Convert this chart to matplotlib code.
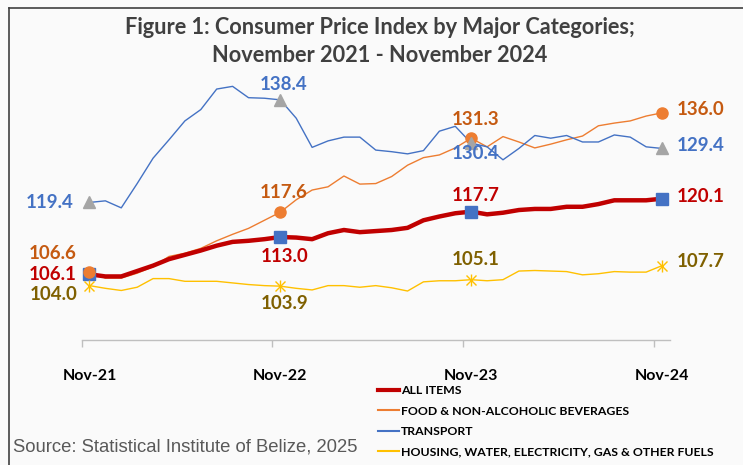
import matplotlib
matplotlib.use("Agg")
import matplotlib.pyplot as plt

# monthly CPI, Nov-2021 .. Nov-2024
months = list(range(37))
tick_labels = ["Nov-21", "Nov-22", "Nov-23", "Nov-24"]
label_idx = [0, 12, 24, 36]

all_items = [106.1, 105.7, 105.7, 106.7, 107.7, 108.9, 109.7, 110.5, 111.4, 112.1,
             112.3, 112.6, 113.0, 112.9, 112.6, 113.7, 114.3, 113.9, 114.1, 114.3,
             114.7, 116.1, 116.8, 117.4, 117.7, 117.2, 117.5, 118.0, 118.2, 118.2,
             118.6, 118.6, 119.1, 119.8, 119.8, 119.8, 120.1]
food = [106.6, 105.4, 105.4, 106.3, 107.5, 109.4, 110.0, 110.9, 112.3, 113.5,
        114.6, 116.1, 117.6, 119.9, 121.7, 122.3, 124.3, 122.8, 122.9, 124.2,
        126.3, 127.7, 128.2, 129.5, 131.3, 129.7, 131.6, 130.6, 129.5, 130.2,
        131.0, 131.7, 133.6, 134.1, 134.5, 135.4, 136.0]
transport = [119.4, 119.7, 118.4, 122.9, 127.6, 131.0, 134.5, 136.6, 140.4, 140.9,
             138.8, 138.7, 138.4, 135.0, 129.6, 130.8, 131.5, 131.5, 129.1, 128.8,
             128.4, 129.0, 132.6, 133.5, 130.4, 129.7, 127.3, 129.4, 131.8, 131.3,
             131.8, 130.6, 130.6, 131.9, 131.5, 129.7, 129.4]
housing = [104.0, 103.5, 103.1, 103.7, 105.3, 105.3, 104.8, 104.8, 104.8, 104.5,
           104.2, 104.0, 103.9, 103.5, 103.2, 104.0, 104.0, 103.7, 104.0, 103.6,
           103.0, 104.7, 104.9, 104.9, 105.1, 104.9, 105.1, 106.7, 106.8, 106.7,
           106.6, 106.0, 106.2, 106.6, 106.5, 106.5, 107.7]

W, H = 743, 465
BG = "#fafafa"
plt.rcParams["font.family"] = ["Lato", "DejaVu Sans"]

fig = plt.figure(figsize=(W / 100, H / 100), dpi=100, facecolor=BG)
# axes box in pixels: left 81.5, right 670, top 64, bottom 340
ax = fig.add_axes([81.5 / W, 1 - 340 / H, (670 - 81.5) / W, (340 - 64) / H])
ax.set_facecolor("none")
ax.set_xlim(-0.5, 36.5)
ax.set_ylim(93.93, 145.04)

series = [
    # values, label, line colour, width, marker, marker colour, text colour
    (all_items, "ALL ITEMS", "#c00000", 3.2, "s", "#4472c4", "#c00000"),
    (food, "FOOD & NON-ALCOHOLIC BEVERAGES", "#ed7d31", 1.0, "o", "#ed7d31", "#c55a11"),
    (transport, "TRANSPORT", "#4472c4", 1.0, "^", "#a5a5a5", "#4472c4"),
    (housing, "HOUSING, WATER, ELECTRICITY, GAS & OTHER FUELS", "#ffc000", 1.0, "*", "#ffc000", "#7f6000"),
]

handles = []
for vals, name, col, lw, mk, mcol, tcol in series:
    ln, = ax.plot(months, vals, color=col, lw=lw, label=name, zorder=3 if lw > 2 else 2,
                  solid_joinstyle="round")
    handles.append(ln)
    xs = [months[i] for i in label_idx]
    ys = [vals[i] for i in label_idx]
    if mk == "*":
        ax.plot(xs, ys, ls="none", marker="x", ms=7, mew=1.0, color=mcol, zorder=4)
        ax.plot(xs, ys, ls="none", marker="|", ms=9, mew=1.0, color=mcol, zorder=4)
    else:
        ax.plot(xs, ys, ls="none", marker=mk, ms=8 if mk != "^" else 9,
                color=mcol, mec=mcol, zorder=4)

# data labels: (series, point index, dx, dy, ha) offsets in pixels
label_pos = {
    "ALL ITEMS": [(-13, 0, "right"), (4, -19, "center"), (4, 16, "center"), (15, 2, "left")],
    "FOOD & NON-ALCOHOLIC BEVERAGES": [(-13, 18, "right"), (3, 20, "center"), (4, 19, "center"), (15, 3, "left")],
    "TRANSPORT": [(-16, 0, "right"), (3, 15, "center"), (4, -10, "center"), (15, 3, "left")],
    "HOUSING, WATER, ELECTRICITY, GAS & OTHER FUELS": [(-12, -9, "right"), (4, -17, "center"), (4, 20, "center"), (15, 4, "left")],
}
for vals, name, col, lw, mk, mcol, tcol in series:
    for i, (dx, dy, ha) in zip(label_idx, label_pos[name]):
        ax.annotate(f"{vals[i]:.1f}", (months[i], vals[i]), xytext=(dx, dy),
                    textcoords="offset pixels", ha=ha, va="center",
                    fontsize=13.5, fontweight="bold", color=tcol, zorder=5)

# axes styling: only a category x axis
for s in ["left", "right", "top"]:
    ax.spines[s].set_visible(False)
ax.spines["bottom"].set_color("#bfbfbf")
ax.spines["bottom"].set_linewidth(1.0)
ax.set_yticks([])
ax.set_xticks([-0.5, 11.5, 23.5, 35.5])
ax.set_xticklabels([])
ax.tick_params(axis="x", which="major", length=5, color="#bfbfbf", width=1.0)
ax.set_xticks(label_idx, minor=True)
ax.set_xticklabels(tick_labels, minor=True)
ax.tick_params(axis="x", which="minor", length=0, pad=21, labelsize=11.5)
for t in ax.get_xticklabels(minor=True):
    t.set_fontweight("bold")

leg = fig.legend(handles=handles, loc="upper left",
                 bbox_to_anchor=(378 / W, 1 - 385 / H), frameon=False,
                 handlelength=1.7, handletextpad=0.15, labelspacing=0.78,
                 borderaxespad=0, borderpad=0,
                 prop={"size": 8.8, "weight": "bold"})
for ln in leg.get_lines():
    ln.set_linewidth(3.0 if ln.get_color() == "#c00000" else 1.5)

fig.text(380 / W, 1 - 28 / H, "Figure 1: Consumer Price Index by Major Categories;",
         ha="center", va="center", fontsize=15.7, fontweight="bold", color="#404040")
fig.text(380 / W, 1 - 55 / H, "November 2021 - November 2024",
         ha="center", va="center", fontsize=15.7, fontweight="bold", color="#404040")
fig.text(13 / W, 1 - 447 / H, "Source: Statistical Institute of Belize, 2025",
         ha="left", va="center", fontsize=13.3, color="#595959",
         family=["Liberation Sans", "DejaVu Sans"])

# chart frame: top and left edges
fig.add_artist(plt.Line2D([9 / W, 9 / W], [0, 1 - 8 / H], color="#404040", lw=1.2))
fig.add_artist(plt.Line2D([9 / W, 1], [1 - 8 / H, 1 - 8 / H], color="#404040", lw=1.2))

fig.savefig("out.png", dpi=100, facecolor=BG)
